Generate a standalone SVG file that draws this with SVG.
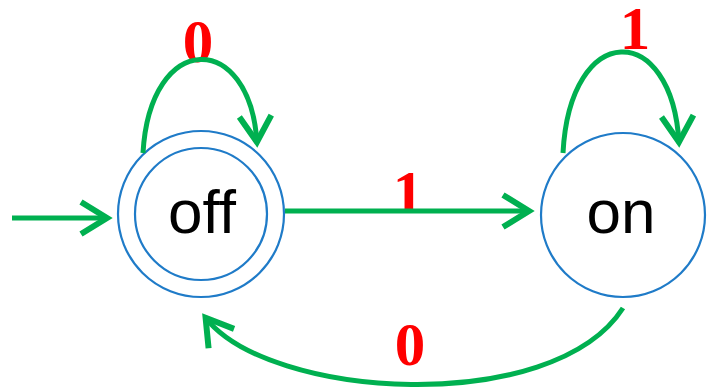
<svg xmlns="http://www.w3.org/2000/svg" width="707" height="390" viewBox="0 0 707 390">
  <style>
    .state { fill: #ffffff; stroke: #1f7bc8; stroke-width: 2.2; }
    .name { font-family: "Liberation Sans", Arial, sans-serif; font-size: 62px; fill: #000000; text-anchor: middle; }
    .sym { font-family: "Liberation Serif", "Times New Roman", serif; font-weight: bold; font-size: 61px; fill: #ff0000; text-anchor: middle; }
    .edge { fill: none; stroke: #00b050; stroke-width: 5; marker-end: url(#head); }
  </style>
  <defs>
    <marker id="head" markerUnits="userSpaceOnUse" markerWidth="50" markerHeight="50" viewBox="-35 -25 50 50" refX="0" refY="0" orient="auto" overflow="visible">
      <path d="M-27,-16 L-1,0 L-27,16" fill="none" stroke="#00b050" stroke-width="6" stroke-linejoin="miter"/>
    </marker>
  </defs>

  <rect width="707" height="390" fill="#ffffff"/>

  <!-- transition symbols -->
  <g id="labels">
    <text class="sym" x="198" y="62">0</text>
    <text class="sym" x="408" y="213">1</text>
    <text class="sym" x="635" y="49">1</text>
    <text class="sym" x="410" y="365">0</text>
  </g>

  <!-- state: off (start, accepting) -->
  <g id="off">
    <circle class="state" cx="201" cy="214" r="83"/>
    <circle class="state" cx="201" cy="214" r="66"/>
    <text class="name" x="202" y="233">off</text>
  </g>

  <!-- state: on -->
  <g id="on">
    <circle class="state" cx="623" cy="215" r="82"/>
    <text class="name" x="621" y="233">on</text>
  </g>

  <!-- transitions -->
  <g id="connectors">
    <path class="edge" d="M12,218 L108,218"/>
    <path class="edge" d="M143,153 C150,30 250,30 257,143"/>
    <path class="edge" d="M285,211 L530,211"/>
    <path class="edge" d="M563,153 C570,20 672,20 679,143"/>
    <path class="edge" d="M623,308 C553,417 268,400 205,317"/>
  </g>
</svg>
